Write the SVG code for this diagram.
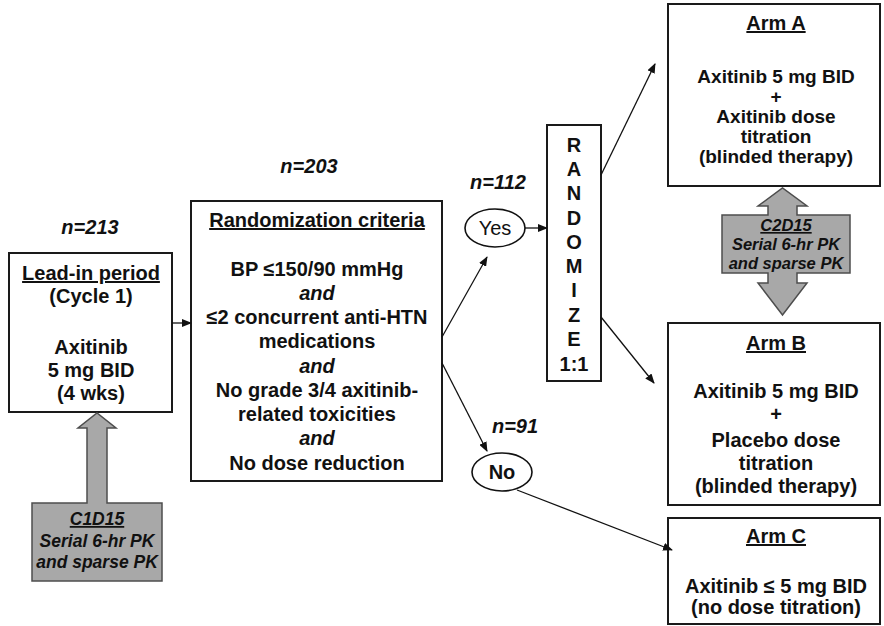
<svg xmlns="http://www.w3.org/2000/svg" width="884" height="626" viewBox="0 0 884 626">
<defs>
<style>
.box{fill:#fff;stroke:#1a1a1a;stroke-width:2}
.pk{fill:#a8a8a8;stroke:#4d4d4d;stroke-width:1.5}
.t{font-family:"Liberation Sans",Arial,sans-serif;font-size:20px;font-weight:bold;fill:#111;text-anchor:middle}
.i{font-style:italic}
.s{font-size:17.5px}
.s2{font-size:16.5px}
.a{font-size:19px}
.u{text-decoration:underline}
.conn line{stroke:#111;stroke-width:1.3;marker-end:url(#ah)}
.ell{fill:#fff;stroke:#111;stroke-width:1.6}
</style>
<marker id="ah" markerUnits="userSpaceOnUse" markerWidth="10" markerHeight="8" refX="9" refY="4" orient="auto">
<path d="M0,0 L10,4 L0,8 z" fill="#111"/>
</marker>
</defs>
<rect width="884" height="626" fill="#fff"/>

<g id="leadin">
<text class="t i" x="90" y="234">n=213</text>
<rect class="box" x="9" y="253" width="163" height="159"/>
<text class="t u" x="91" y="280">Lead-in period</text>
<text class="t" x="91" y="303">(Cycle 1)</text>
<text class="t" x="91" y="354">Axitinib</text>
<text class="t" x="91" y="377">5 mg BID</text>
<text class="t" x="91" y="400">(4 wks)</text>
</g>

<g id="c1d15">
<path class="pk" d="M32,503 L87,503 L87,428 L78,428 L97,413 L116,428 L107,428 L107,503 L162,503 L162,581 L32,581 Z"/>
<text class="t i s u" x="97" y="525">C1D15</text>
<text class="t i s" x="97" y="547">Serial 6-hr PK</text>
<text class="t i s" x="97" y="568">and sparse PK</text>
</g>

<g id="criteria">
<text class="t i" x="309" y="173">n=203</text>
<rect class="box" x="191" y="201" width="251" height="280"/>
<text class="t u" x="317" y="227">Randomization criteria</text>
<text class="t" x="317" y="276">BP ≤150/90 mmHg</text>
<text class="t i" x="317" y="300">and</text>
<text class="t" x="317" y="324">≤2 concurrent anti-HTN</text>
<text class="t" x="317" y="348">medications</text>
<text class="t i" x="317" y="373">and</text>
<text class="t" x="317" y="397">No grade 3/4 axitinib-</text>
<text class="t" x="317" y="421">related toxicities</text>
<text class="t i" x="317" y="445">and</text>
<text class="t" x="317" y="470">No dose reduction</text>
</g>

<g id="yes">
<text class="t i" x="498" y="189">n=112</text>
<ellipse class="ell" cx="495" cy="228" rx="30" ry="19"/>
<text class="t" x="495" y="235" style="font-weight:normal">Yes</text>
</g>

<g id="no">
<text class="t i" x="515" y="433">n=91</text>
<ellipse class="ell" cx="502" cy="472" rx="30" ry="19"/>
<text class="t" x="502" y="479">No</text>
</g>

<g id="randomize">
<rect class="box" x="547" y="125" width="54" height="256"/>
<text class="t" x="574" y="152">R</text>
<text class="t" x="574" y="176">A</text>
<text class="t" x="574" y="200">N</text>
<text class="t" x="574" y="225">D</text>
<text class="t" x="574" y="249">O</text>
<text class="t" x="574" y="273">M</text>
<text class="t" x="574" y="297">I</text>
<text class="t" x="574" y="322">Z</text>
<text class="t" x="574" y="346">E</text>
<text class="t" x="574" y="371">1:1</text>
</g>

<g id="armA">
<rect class="box" x="668" y="4" width="212" height="182"/>
<text class="t u" x="776" y="30">Arm A</text>
<text class="t a" x="776" y="83">Axitinib 5 mg BID</text>
<text class="t a" x="776" y="103">+</text>
<text class="t a" x="776" y="123">Axitinib dose</text>
<text class="t a" x="776" y="143">titration</text>
<text class="t a" x="776" y="163">(blinded therapy)</text>
</g>

<g id="c2d15">
<path class="pk" d="M722,215 L768,215 L768,206 L758,206 L782.5,188 L807,206 L797,206 L797,215 L850,215 L850,273 L797,273 L797,283 L807,283 L782.5,315 L758,283 L768,283 L768,273 L722,273 Z"/>
<text class="t i s2 u" x="786" y="231">C2D15</text>
<text class="t i s2" x="786" y="250">Serial 6-hr PK</text>
<text class="t i s2" x="786" y="269">and sparse PK</text>
</g>

<g id="armB">
<rect class="box" x="668" y="323" width="212" height="182"/>
<text class="t u" x="776" y="350">Arm B</text>
<text class="t" x="776" y="398">Axitinib 5 mg BID</text>
<text class="t" x="776" y="421">+</text>
<text class="t" x="776" y="447">Placebo dose</text>
<text class="t" x="776" y="470">titration</text>
<text class="t" x="776" y="493">(blinded therapy)</text>
</g>

<g id="armC">
<rect class="box" x="668" y="518" width="212" height="106"/>
<text class="t u" x="776" y="543">Arm C</text>
<text class="t" x="776" y="593">Axitinib ≤ 5 mg BID</text>
<text class="t" x="776" y="614">(no dose titration)</text>
</g>

<g id="connectors" class="conn">
<line x1="172" y1="323" x2="191" y2="323"/>
<line x1="442" y1="337" x2="487" y2="257"/>
<line x1="442" y1="363" x2="487" y2="451"/>
<line x1="525" y1="228" x2="547" y2="228"/>
<line x1="601" y1="175" x2="655" y2="64"/>
<line x1="601" y1="317" x2="654" y2="383"/>
<line x1="517" y1="490" x2="672" y2="550"/>
</g>
</svg>
